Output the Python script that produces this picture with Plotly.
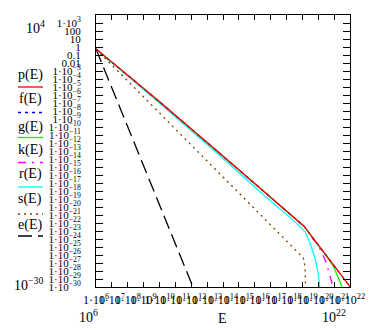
import plotly.graph_objects as go

# ---- data ----
p_E = [1e6, 6.6e9, 1.7e14, 1.26e19, 1e22]
p_V = [0.56, 2.9e-7, 9.1e-15, 4.0e-23, 1.1e-30]

f_E = [1e6, 1e10, 1e14, 1.26e19, 1e22]
f_V = [0.56, 1.4e-7, 2.2e-14, 4.0e-23, 1.1e-30]

g_E = [1e6, 6.6e9, 1.7e14, 1.26e19, 3.2e20, 8.9e20, 2.3e21, 3.2e21]
g_V = [0.56, 2.9e-7, 9.1e-15, 4.0e-23, 7.9e-27, 4.0e-28, 5.0e-30, 8e-31]

k_E = [1e6, 6.6e9, 1.7e14, 1.26e19, 1.26e20, 2.7e20, 4.5e20, 7.1e20, 8.9e20]
k_V = [0.56, 2.9e-7, 9.1e-15, 4.0e-23, 6.3e-26, 2.5e-27, 1.0e-28, 6.3e-30, 8e-31]

r_E = [1e6, 1e10, 1e14, 3.2e16, 3.2e18, 1.48e19, 3.0e19, 6.3e19, 9.5e19, 1.26e20]
r_V = [0.56, 1.0e-7, 1.26e-14, 4.0e-19, 1.6e-22, 7.9e-24, 3.2e-25, 4.0e-27, 7.9e-29, 8e-31]

s_E = [1e6, 1.15e19, 1.48e19, 1.58e19]
s_V = [0.56, 4.3e-27, 3.2e-28, 8e-31]

e_E = [1e6, 1.35e12]
e_V = [0.56, 8e-31]

y_tickvals = [1e4, 1e3, 1e2, 1e1, 1e0, 1e-1, 1e-2, 1e-3, 1e-4, 1e-5, 1e-6, 1e-7, 1e-8,
              1e-9, 1e-10, 1e-11, 1e-12, 1e-13, 1e-14, 1e-15, 1e-16, 1e-17, 1e-18,
              1e-19, 1e-20, 1e-21, 1e-22, 1e-23, 1e-24, 1e-25, 1e-26, 1e-27, 1e-28,
              1e-29, 1e-30]
y_ticktext = ["1·10<sup>4</sup>", "1·10<sup>3</sup>", "100", "10", "1", "0.1", "0.01",
              "1·10<sup>−3</sup>", "1·10<sup>−4</sup>", "1·10<sup>−5</sup>", "1·10<sup>−6</sup>",
              "1·10<sup>−7</sup>", "1·10<sup>−8</sup>", "1·10<sup>−9</sup>", "1·10<sup>−10</sup>",
              "1·10<sup>−11</sup>", "1·10<sup>−12</sup>", "1·10<sup>−13</sup>", "1·10<sup>−14</sup>",
              "1·10<sup>−15</sup>", "1·10<sup>−16</sup>", "1·10<sup>−17</sup>", "1·10<sup>−18</sup>",
              "1·10<sup>−19</sup>", "1·10<sup>−20</sup>", "1·10<sup>−21</sup>", "1·10<sup>−22</sup>",
              "1·10<sup>−23</sup>", "1·10<sup>−24</sup>", "1·10<sup>−25</sup>", "1·10<sup>−26</sup>",
              "1·10<sup>−27</sup>", "1·10<sup>−28</sup>", "1·10<sup>−29</sup>", "1·10<sup>−30</sup>"]

x_tickvals = [1e6, 1e7, 1e8, 1e9, 1e10, 1e11, 1e12, 1e13, 1e14, 1e15, 1e16, 1e17,
              1e18, 1e19, 1e20, 1e21, 1e22]
x_ticktext = ["1·10<sup>6</sup>", "1·10<sup>7</sup>", "1·10<sup>8</sup>", "1·10<sup>9</sup>",
              "1·10<sup>10</sup>", "1·10<sup>11</sup>", "1·10<sup>12</sup>", "1·10<sup>13</sup>",
              "1·10<sup>14</sup>", "1·10<sup>15</sup>", "1·10<sup>16</sup>", "1·10<sup>17</sup>",
              "1·10<sup>18</sup>", "1·10<sup>19</sup>", "1·10<sup>20</sup>", "1·10<sup>21</sup>",
              "1·10<sup>22</sup>"]

series = [
    ("r(E)", r_E, r_V, "#00ffff", "solid"),
    ("s(E)", s_E, s_V, "#804000", "2px,4px"),
    ("e(E)", e_E, e_V, "#000000", "14px,6px"),
    ("k(E)", k_E, k_V, "#ff00ff", "8px,6px,2px,6px"),
    ("g(E)", g_E, g_V, "#00ff00", "solid"),
    ("f(E)", f_E, f_V, "#0000ff", "3px,4px"),
    ("p(E)", p_E, p_V, "#ff0000", "solid"),
]
legend_order = ["p(E)", "f(E)", "g(E)", "k(E)", "r(E)", "s(E)", "e(E)"]

FONT = "Liberation Serif, Times New Roman, serif"
# page body has an 8px margin: the figure is drawn 8px in from the window corner
OFF = 8
W, H = 374 - OFF, 330 - OFF
L, R, T, B = 96 - OFF, 24, 15 - OFF, 43
PW, PH = W - L - R, H - T - B
PLOT_BOTTOM = 287  # in window pixels


def px(x):
    return (x - 96) / PW


def py(y):
    return (PLOT_BOTTOM - y) / PH


fig = go.Figure()
for name, xs, ys, col, dash in series:
    fig.add_trace(go.Scatter(x=xs, y=ys, mode="lines", name=name,
                             line=dict(color=col, width=1.3, dash=dash),
                             showlegend=False, hoverinfo="skip"))

annotations = []
shapes = []
styles = {s[0]: (s[3], s[4]) for s in series}
label_y = [75, 99, 126.5, 150, 173.5, 199, 225]
line_y = [87, 112.5, 137.5, 162.5, 187, 214, 236]
for name, ly, sy in zip(legend_order, label_y, line_y):
    col, dash = styles[name]
    annotations.append(dict(x=px(30), y=py(ly), xref="paper", yref="paper", text=name,
                            showarrow=False, font=dict(family=FONT, size=14, color="black"),
                            xanchor="center", yanchor="middle"))
    shapes.append(dict(type="line", xref="paper", yref="paper", x0=px(18), x1=px(43),
                       y0=py(sy), y1=py(sy), line=dict(color=col, width=1.3, dash=dash)))

extra = [("10<sup>4</sup>", 35, 27), ("10<sup>−30</sup>", 28, 284),
         ("10<sup>6</sup>", 88, 316), ("10<sup>22</sup>", 334, 316), ("E", 222, 318)]
for txt, x, y in extra:
    annotations.append(dict(x=px(x), y=py(y), xref="paper", yref="paper", text=txt,
                            showarrow=False, font=dict(family=FONT, size=14, color="black"),
                            xanchor="center", yanchor="middle"))

fig.update_layout(
    width=W, height=H,
    margin=dict(l=L, r=R, t=T, b=B, autoexpand=False),
    paper_bgcolor="white", plot_bgcolor="white",
    annotations=annotations, shapes=shapes,
    font=dict(family=FONT, color="black"),
)
fig.update_xaxes(type="log", range=[6, 22], tickvals=x_tickvals, ticktext=x_ticktext,
                 tickangle=0, ticks="inside", ticklen=5, tickcolor="black",
                 showline=True, linecolor="black", linewidth=1, mirror="ticks",
                 showgrid=False, zeroline=False, tickfont=dict(family=FONT, size=12),
                 ticklabelstandoff=2)
fig.update_yaxes(type="log", range=[-30, 4], tickvals=y_tickvals, ticktext=y_ticktext,
                 ticks="inside", ticklen=7, tickcolor="black",
                 showline=True, linecolor="black", linewidth=1, mirror="ticks",
                 showgrid=False, zeroline=False, tickfont=dict(family=FONT, size=11),
                 ticklabelstandoff=12)

fig.write_html("out.html")
